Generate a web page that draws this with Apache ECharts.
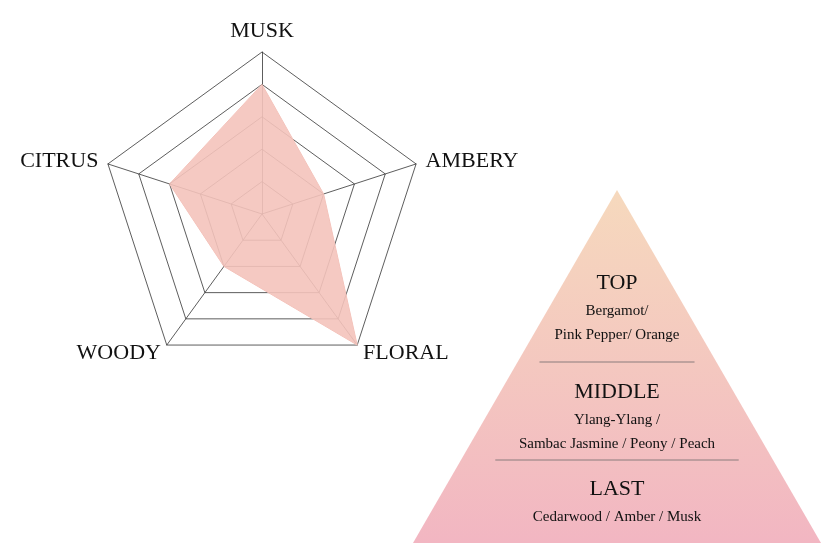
<!DOCTYPE html>
<html>
<head>
<meta charset="utf-8">
<script src="https://cdn.jsdelivr.net/npm/echarts@6/dist/echarts.min.js"></script>
<style>html,body{margin:0;padding:0;background:#fff}#chart{width:831px;height:549px}</style>
</head>
<body>
<div id="chart"></div>
<script>
// 数据（雷达轴按逆时针顺序排列，使图上顺时针为 MUSK → AMBERY → FLORAL → WOODY → CITRUS）
var axes = ['MUSK', 'CITRUS', 'WOODY', 'FLORAL', 'AMBERY'];
var scentValues = [0.8, 0.6, 0.4, 1.0, 0.4];
var tiers = ['TOP', 'MIDDLE', 'LAST'];
var tierNotes = [
  ['Bergamot/', 'Pink Pepper/ Orange'],
  ['Ylang-Ylang /', 'Sambac Jasmine / Peony / Peach'],
  ['Cedarwood / Amber / Musk']
];

var font = '"Liberation Serif", "DejaVu Serif", serif';
var cx = 617, apexY = 190, baseY = 543, halfBase = 204;
var tierY = [283, 392, 489];   // 标题位置
var lineY = [362, 460];        // 分隔线

var graphics = [{
  type: 'polygon',
  shape: { points: [[cx, apexY], [cx + halfBase, baseY], [cx - halfBase, baseY]] },
  style: {
    fill: new echarts.graphic.LinearGradient(0, 0, 0, 1, [
      { offset: 0, color: '#f6d9bd' },
      { offset: 1, color: '#f2b6c2' }
    ])
  }
}];
lineY.forEach(function (y) {
  var hw = (y - apexY) / (baseY - apexY) * halfBase * 0.78;
  graphics.push({
    type: 'line',
    shape: { x1: cx - hw, y1: y, x2: cx + hw, y2: y },
    style: { stroke: '#8a7d7d', lineWidth: 1 }
  });
});
tiers.forEach(function (t, i) {
  graphics.push({
    type: 'text', x: cx, y: tierY[i],
    style: { text: t, font: '22px ' + font, fill: '#111', align: 'center', verticalAlign: 'middle' }
  });
  tierNotes[i].forEach(function (n, j) {
    graphics.push({
      type: 'text', x: cx, y: tierY[i] + 28 + j * 24,
      style: { text: n, font: '15px ' + font, fill: '#111', align: 'center', verticalAlign: 'middle' }
    });
  });
});

var chart = echarts.init(document.getElementById('chart'));
chart.setOption({
  animation: false,
  radar: {
    center: [262, 214],
    radius: 162,
    startAngle: 90,
    splitNumber: 5,
    indicator: axes.map(function (a) { return { name: a, max: 1 }; }),
    axisName: { color: '#111', fontSize: 22, fontFamily: font },
    nameGap: 10,
    splitArea: { show: false },
    splitLine: { lineStyle: { color: '#333', width: 0.8 } },
    axisLine: { lineStyle: { color: '#333', width: 0.8 } }
  },
  series: [{
    type: 'radar',
    symbol: 'none',
    lineStyle: { color: '#f4c3bb', width: 1 },
    areaStyle: { color: '#f4c3bb', opacity: 0.9 },
    data: [{ value: scentValues }]
  }],
  graphic: graphics
});
</script>
</body>
</html>
